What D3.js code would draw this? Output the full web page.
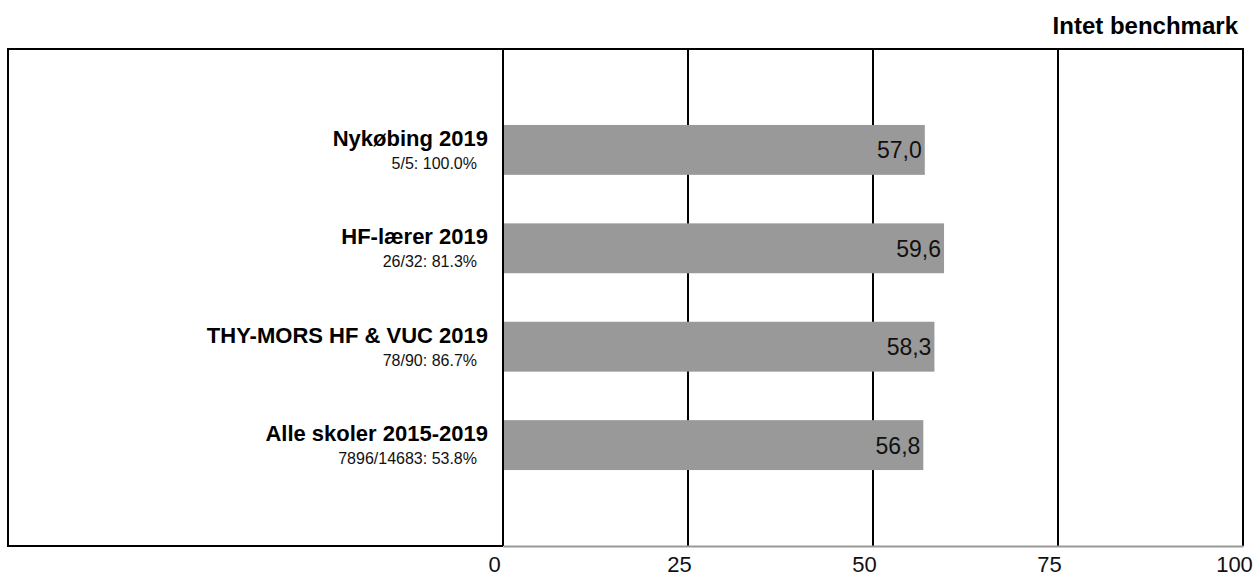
<!DOCTYPE html>
<html>
<head>
<meta charset="utf-8">
<script src="https://cdn.jsdelivr.net/npm/d3@7"></script>
<style>
  body { margin: 0; background: #fff; }
  svg { display: block; font-family: Arial, "Liberation Sans", sans-serif; }
</style>
</head>
<body>
<div id="chart"></div>
<script>
// chart data
const categories = ["Nykøbing 2019", "HF-lærer 2019", "THY-MORS HF & VUC 2019", "Alle skoler 2015-2019"];
const subLabels = ["5/5: 100.0%", "26/32: 81.3%", "78/90: 86.7%", "7896/14683: 53.8%"];
const values = [57.0, 59.6, 58.3, 56.8];
const tickValues = [0, 25, 50, 75, 100];
const title = "Intet benchmark";

const width = 1255, height = 577;
const frame = {left: 8, top: 49, right: 1243, bottom: 546};
const plotLeft = 503;

const svg = d3.select("#chart").append("svg")
    .attr("width", width)
    .attr("height", height);

const x = d3.scaleLinear().domain([0, 100]).range([plotLeft, frame.right]);
const y = d3.scaleBand()
    .domain(categories)
    .range([frame.top, frame.bottom])
    .paddingInner(0.493)
    .paddingOuter(0.772);

const fmt = v => v.toFixed(1).replace(".", ",");

// title
svg.append("text")
    .attr("x", 1238)
    .attr("y", 34)
    .attr("text-anchor", "end")
    .style("font-size", "24px")
    .style("font-weight", "bold")
    .text(title);

// outer frame (left, top, bottom-left part)
svg.append("path")
    .attr("d", `M${plotLeft},${frame.bottom} H${frame.left} V${frame.top} H${frame.right}`)
    .style("fill", "none")
    .style("stroke", "#000")
    .style("stroke-width", 2);

// gridlines
svg.append("g").selectAll("line")
    .data(tickValues)
    .join("line")
    .attr("x1", d => x(d))
    .attr("x2", d => x(d))
    .attr("y1", frame.top - 1)
    .attr("y2", frame.bottom)
    .style("stroke", "#000")
    .style("stroke-width", 2);

// bars
svg.append("g").selectAll("rect")
    .data(values)
    .join("rect")
    .attr("x", x(0) + 1)
    .attr("y", (d, i) => y(categories[i]))
    .attr("width", d => x(d) - x(0) - 1)
    .attr("height", y.bandwidth())
    .style("fill", "#999999");

// value labels
svg.append("g").selectAll("text")
    .data(values)
    .join("text")
    .attr("x", d => x(d) - 3)
    .attr("y", (d, i) => y(categories[i]) + y.bandwidth() / 2 + 8.5)
    .attr("text-anchor", "end")
    .style("font-size", "23px")
    .style("fill", "#111")
    .text(d => fmt(d));

// category labels
const labels = svg.append("g");
labels.selectAll("text.cat")
    .data(categories)
    .join("text")
    .attr("class", "cat")
    .attr("x", 488)
    .attr("y", d => y(d) + y.bandwidth() / 2 - 4)
    .attr("text-anchor", "end")
    .style("font-size", "22px")
    .style("font-weight", "bold")
    .text(d => d);
labels.selectAll("text.sub")
    .data(subLabels)
    .join("text")
    .attr("class", "sub")
    .attr("x", 477)
    .attr("y", (d, i) => y(categories[i]) + y.bandwidth() / 2 + 19)
    .attr("text-anchor", "end")
    .style("font-size", "16px")
    .style("fill", "#111")
    .text(d => d);

// bottom axis (gray baseline)
const axis = svg.append("g")
    .attr("transform", `translate(0,${frame.bottom})`)
    .call(d3.axisBottom(x).tickValues(tickValues).tickSize(0).tickFormat(d3.format("d")));
axis.select(".domain")
    .style("stroke", "#999999")
    .style("stroke-width", 2);
axis.selectAll("text")
    .attr("y", 26)
    .attr("dy", 0)
    .attr("dx", -9)
    .style("font-size", "22px")
    .style("font-family", "Arial, 'Liberation Sans', sans-serif")
    .style("fill", "#111");
</script>
</body>
</html>
